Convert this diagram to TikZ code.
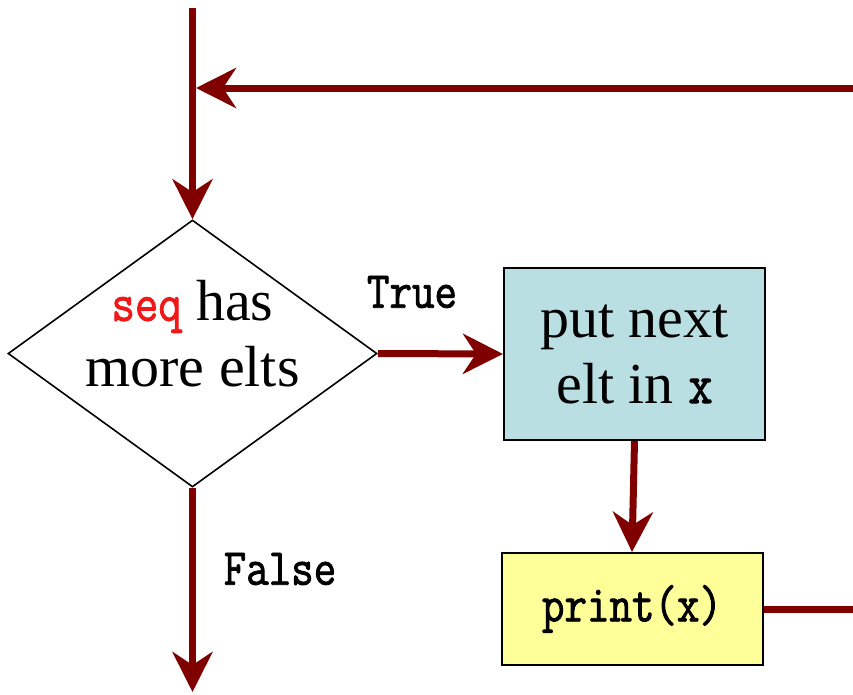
\documentclass[tikz,border=0pt]{standalone}
\usepackage{fontspec}
\setmainfont{Liberation Serif}
\newfontfamily\typew{Latin Modern Mono}[FakeBold=1.6, FakeStretch=0.84]
\usepackage{xcolor}
\usetikzlibrary{arrows.meta,calc,shapes.geometric}

\definecolor{flowred}{HTML}{800000}
\definecolor{boxblue}{HTML}{BADFE3}
\definecolor{boxyellow}{HTML}{FFFF99}
\definecolor{seqred}{HTML}{F01818}

\begin{document}
\begin{tikzpicture}[x=1pt, y=-1pt, >={Stealth[length=40pt, width=40pt, inset=13pt]},
    flow/.style={draw=flowred, line width=7pt},
    bigtext/.style={font=\fontsize{58}{66}\selectfont, align=center},
    ttlabel/.style={font=\fontsize{52}{60}\typew},
    stepbox/.style={draw, line width=2pt, minimum width=261pt, inner sep=0pt}]
    \useasboundingbox (0,0) rectangle (853,694);

    \coordinate (top) at (192.5,8);
    \coordinate (join) at (196,88);
    \coordinate (loopin) at (853,88);
    \coordinate (loopout) at (853,609);
    \coordinate (exit) at (192.5,692);

    % decision
    \node[diamond, draw, line width=1.6pt, minimum width=369pt, minimum height=267pt, inner sep=0pt] (cond) at (192.5,353.5) {};
    \node[bigtext] (condtext) at (192.5,334) {{\fontsize{54}{66}\typew\color{seqred}seq} has\\more elts};

    % loop body
    \node[stepbox, fill=boxblue, minimum height=172pt, bigtext] (nextelt) at (634.5,354) {put next\\elt in {\fontsize{56}{66}\typew x}};
    \node[stepbox, fill=boxyellow, minimum height=112pt, ttlabel] (printx) at (632,609) {print(x)};

    \draw[flow, ->] (top) -- (cond.north);
    \draw[flow, ->] (loopin) -- (join);
    \draw[flow, ->] (cond.east) -- (nextelt.west);
    \draw[flow, ->] (nextelt.south) -- (printx.north);
    \draw[flow] (printx.east) -- (loopout);
    \draw[flow, ->] (cond.south) -- (exit);

    \node[ttlabel] (truelbl) at (412,292) {True};
    \node[ttlabel] (falselbl) at (280,569) {False};
\end{tikzpicture}
\end{document}
